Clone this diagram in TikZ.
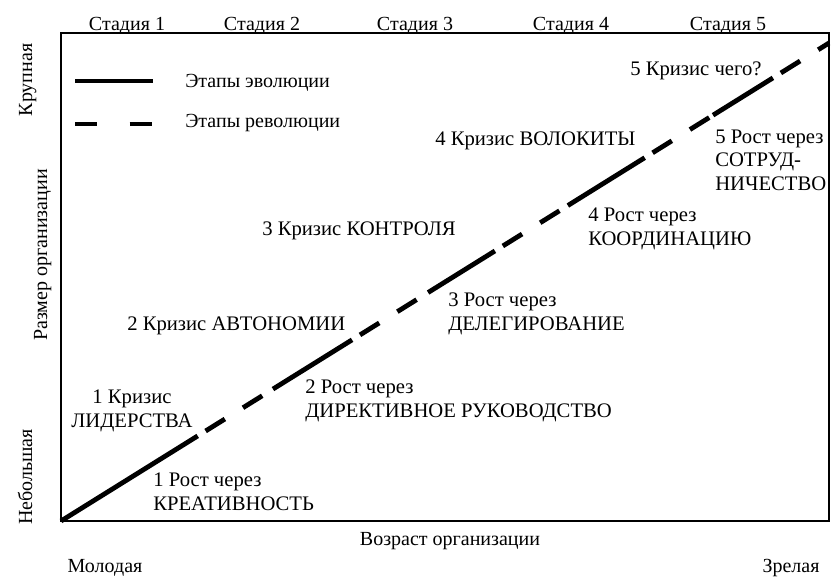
\documentclass[tikz,border=0pt]{standalone}
\usepackage{fontspec}
\setmainfont{Liberation Serif}
\usetikzlibrary{calc}

\begin{document}
\begin{tikzpicture}[
    x=0.75pt, y=-0.75pt,
    lbl/.style={font=\fontsize{15}{17}\selectfont, inner sep=0pt},
    zone/.style={font=\fontsize{15.5}{17.5}\selectfont, inner sep=0pt, align=left, anchor=base west},
    evo/.style={line width=3.6pt},
    rev/.style={line width=3.6pt, dash pattern=on 17pt off 16pt, dash phase=26pt},
    frame/.style={line width=1.2pt}
]
    \useasboundingbox (0,0) rectangle (836,583);

    % 坐标框
    \draw[frame] (61,33) rectangle (829,521);

    % 对角线端点
    \coordinate (O) at (61,521);   % 左下
    \coordinate (E) at (829,43);   % 右上

    % 1. 五个阶段: 实线(进化) + 虚线(革命)
    \foreach \ta/\tb/\tc in {0/0.178/0.276, 0.276/0.379/0.478, 0.478/0.565/0.660,
                             0.660/0.760/0.849, 0.849/0.927/1} {
        \draw[evo] ($(O)!\ta!(E)$) -- ($(O)!\tb!(E)$);
        \draw[rev] ($(O)!\tb!(E)$) -- ($(O)!\tc!(E)$);
    }

    % 2. 阶段标题
    \foreach \x [count=\i] in {127, 262, 415, 571, 728}
        \node[lbl, anchor=base] (st\i) at (\x,30) {Стадия \i};

    % 3. 图例
    \coordinate (evoA) at (75,81);  \coordinate (evoB) at (153,81);
    \coordinate (revA) at (75,124); \coordinate (revB) at (153,124);
    \draw[evo] (evoA) -- (evoB);
    \draw[line width=3.6pt, dash pattern=on 16.5pt off 24.5pt] (revA) -- (revB);
    \node[lbl, anchor=base west] (evoT) at (185,87) {Этапы эволюции};
    \node[lbl, anchor=base west] (revT) at (185,127) {Этапы революции};

    % 4. 轴标签
    \node[lbl, anchor=base, rotate=90] (big)   at (32,80)  {Крупная};
    \node[lbl, anchor=base, rotate=90] (size)  at (47,255) {Размер организации};
    \node[lbl, anchor=base, rotate=90] (small) at (32,477) {Небольшая};
    \node[lbl, anchor=base] (age)    at (450,545) {Возраст организации};
    \node[lbl, anchor=base] (young)  at (105,572) {Молодая};
    \node[lbl, anchor=base] (mature) at (791,572) {Зрелая};

    % 5. 危机与成长 (锚点为末行基线)
    \node[zone, align=center, anchor=base] (c1) at (132,427) {1 Кризис\\ЛИДЕРСТВА};
    \node[zone] (g1) at (153,510) {1 Рост через\\КРЕАТИВНОСТЬ};
    \node[zone] (c2) at (127,330) {2 Кризис АВТОНОМИИ};
    \node[zone] (g2) at (305,417) {2 Рост через\\ДИРЕКТИВНОЕ РУКОВОДСТВО};
    \node[zone] (c3) at (262,235) {3 Кризис КОНТРОЛЯ};
    \node[zone] (g3) at (448,330) {3 Рост через\\ДЕЛЕГИРОВАНИЕ};
    \node[zone] (c4) at (435,145) {4 Кризис ВОЛОКИТЫ};
    \node[zone] (g4) at (588,245) {4 Рост через\\КООРДИНАЦИЮ};
    \node[zone] (c5) at (630,75)  {5 Кризис чего?};
    \node[zone] (g5) at (715,190) {5 Рост через\\СОТРУД-\\НИЧЕСТВО};

\end{tikzpicture}
\end{document}
